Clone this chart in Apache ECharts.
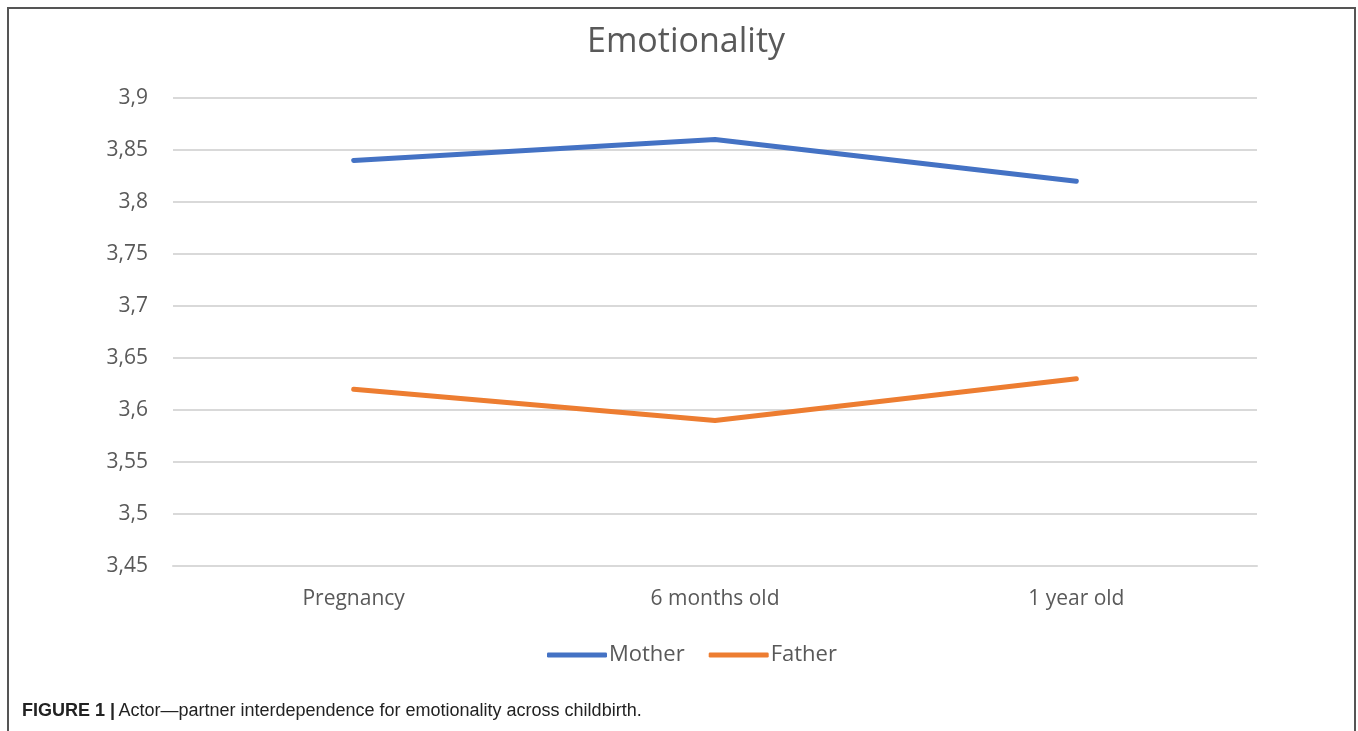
<!DOCTYPE html>
<html>
<head>
<meta charset="utf-8">
<script src="https://cdn.jsdelivr.net/npm/echarts@6/dist/echarts.min.js"></script>
<style>
  html, body { margin: 0; padding: 0; background: #fff; }
  #chart { width: 1358px; height: 731px; }
</style>
</head>
<body>
<div id="chart"></div>
<script>
(function() {
    var categories = ['Pregnancy', '6 months old', '1 year old'];
    var motherValues = [3.84, 3.86, 3.82];
    var fatherValues = [3.62, 3.59, 3.63];
    var yTicks = { min: 3.45, max: 3.9, step: 0.05 };

    var chart = echarts.init(document.getElementById('chart'));
    var labelColor = '#595959';
    var font = '"Open Sans", "Noto Sans", sans-serif';

    var option = {
        animation: false,
        backgroundColor: '#fff',
        title: {
            text: 'Emotionality',
            left: 587,
            top: 25,
            padding: 0,
            textStyle: { color: labelColor, fontSize: 34, fontWeight: 'normal', fontFamily: font }
        },
        legend: {
            bottom: 65,
            left: 547,
            itemWidth: 60,
            itemHeight: 5,
            itemGap: 24,
            icon: 'roundRect',
            padding: 0,
            textStyle: { color: labelColor, fontSize: 22, fontFamily: font, padding: [0, 0, 0, -3] },
            data: ['Mother', 'Father']
        },
        grid: { left: 173, right: 101, top: 98, bottom: 165, containLabel: false },
        xAxis: {
            type: 'category',
            data: categories,
            boundaryGap: true,
            axisLine: { lineStyle: { color: '#d9d9d9', width: 2 } },
            axisTick: { show: false },
            axisLabel: { color: labelColor, fontSize: 21, fontFamily: font, margin: 23 }
        },
        yAxis: {
            type: 'value',
            min: yTicks.min,
            max: yTicks.max,
            interval: yTicks.step,
            axisLine: { show: false },
            axisTick: { show: false },
            splitLine: { lineStyle: { color: '#d9d9d9', width: 2 } },
            axisLabel: {
                color: labelColor, fontSize: 21, fontFamily: font, margin: 25,
                formatter: function(v) { return (Math.round(v * 100) / 100).toString().replace('.', ','); }
            }
        },
        series: [
            {
                name: 'Mother', type: 'line', data: motherValues,
                symbol: 'none', color: '#4472c4',
                lineStyle: { width: 5, cap: 'round' }
            },
            {
                name: 'Father', type: 'line', data: fatherValues,
                symbol: 'none', color: '#ed7d31',
                lineStyle: { width: 5, cap: 'round' }
            }
        ],
        graphic: [
            {
                type: 'rect',
                shape: { x: 8, y: 8, width: 1347, height: 740 },
                style: { fill: 'none', stroke: '#555', lineWidth: 2 },
                silent: true
            },
            {
                type: 'text',
                left: 22, top: 702,
                style: {
                    rich: {
                        b: { fontFamily: '"Liberation Sans", sans-serif', fontWeight: 'bold', fontSize: 18, fill: '#222' },
                        r: { fontFamily: '"Liberation Sans", sans-serif', fontSize: 18, fill: '#222' }
                    },
                    text: '{b|FIGURE 1 |} {r|Actor—partner interdependence for emotionality across childbirth.}'
                }
            }
        ]
    };
    chart.setOption(option);
})();
</script>
</body>
</html>
